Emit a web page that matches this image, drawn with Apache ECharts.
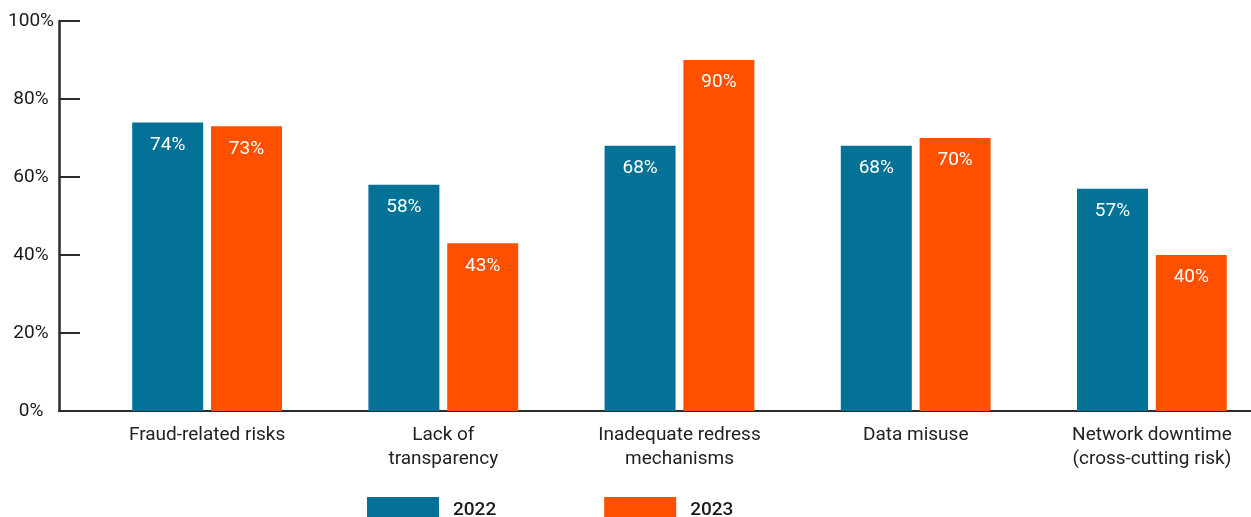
<!DOCTYPE html>
<html>
<head>
<meta charset="utf-8">
<script src="https://cdn.jsdelivr.net/npm/echarts@6/dist/echarts.min.js"></script>
<style>
html,body{margin:0;padding:0;background:#fff;}
#chart{width:1251px;height:517px;}
</style>
</head>
<body>
<div id="chart"></div>
<script>
const categories = ['Fraud-related risks', 'Lack of\ntransparency', 'Inadequate redress\nmechanisms', 'Data misuse', 'Network downtime\n(cross-cutting risk)'];
const values2022 = [74, 58, 68, 68, 57];
const values2023 = [73, 43, 90, 70, 40];
const seriesNames = ['2022', '2023'];
const colors = ['#037296', '#FF5000'];

const chart = echarts.init(document.getElementById('chart'));
const font = 'Roboto';
const labelCfg = {
  show: true,
  position: 'insideTop',
  distance: 13,
  color: '#ffffff',
  fontSize: 19,
  fontFamily: font,
  formatter: '{c}%'
};
chart.setOption({
  animation: false,
  textStyle: { fontFamily: font },
  grid: [
    { left: 59, right: 0, top: 21, bottom: 106, outerBoundsMode: 'none' },
    { left: 89, width: 1181, top: 21, bottom: 106, outerBoundsMode: 'none' }
  ],
  legend: {
    data: seriesNames,
    left: 367,
    top: 497,
    padding: 0,
    itemWidth: 72,
    itemHeight: 26,
    itemGap: 108,
    icon: 'rect',
    textStyle: { fontSize: 19, fontWeight: 500, color: '#1a1a1a', fontFamily: font, padding: [0, 0, 0, 9] }
  },
  xAxis: [
    {
      gridIndex: 0, type: 'category', data: [''],
      axisLine: { show: true, lineStyle: { color: '#2b2b2b', width: 2 } },
      axisTick: { show: false }, axisLabel: { show: false }, splitLine: { show: false }
    },
    {
      gridIndex: 1, type: 'category', data: categories,
      axisLine: { show: false }, axisTick: { show: false },
      axisLabel: { color: '#222', fontSize: 19, fontFamily: font, lineHeight: 24, margin: 12, interval: 0 }
    }
  ],
  yAxis: [
    {
      gridIndex: 0, type: 'value', min: 0, max: 100, interval: 20,
      axisLine: { show: true, lineStyle: { color: '#2b2b2b', width: 2.5 } },
      axisTick: { show: true, inside: true, length: 21, lineStyle: { color: '#2b2b2b', width: 2 } },
      axisLabel: { formatter: '{value}%', color: '#1a1a1a', fontSize: 19, fontFamily: font, align: 'center', margin: 28 },
      splitLine: { show: false }
    },
    {
      gridIndex: 1, type: 'value', min: 0, max: 100, show: false, splitLine: { show: false }
    }
  ],
  series: [
    {
      name: seriesNames[0], type: 'bar', xAxisIndex: 1, yAxisIndex: 1,
      data: values2022, barWidth: 71, barGap: '11%',
      itemStyle: { color: colors[0] }, label: labelCfg
    },
    {
      name: seriesNames[1], type: 'bar', xAxisIndex: 1, yAxisIndex: 1,
      data: values2023, barWidth: 71, barGap: '11%',
      itemStyle: { color: colors[1] }, label: labelCfg
    }
  ]
});
</script>
</body>
</html>
